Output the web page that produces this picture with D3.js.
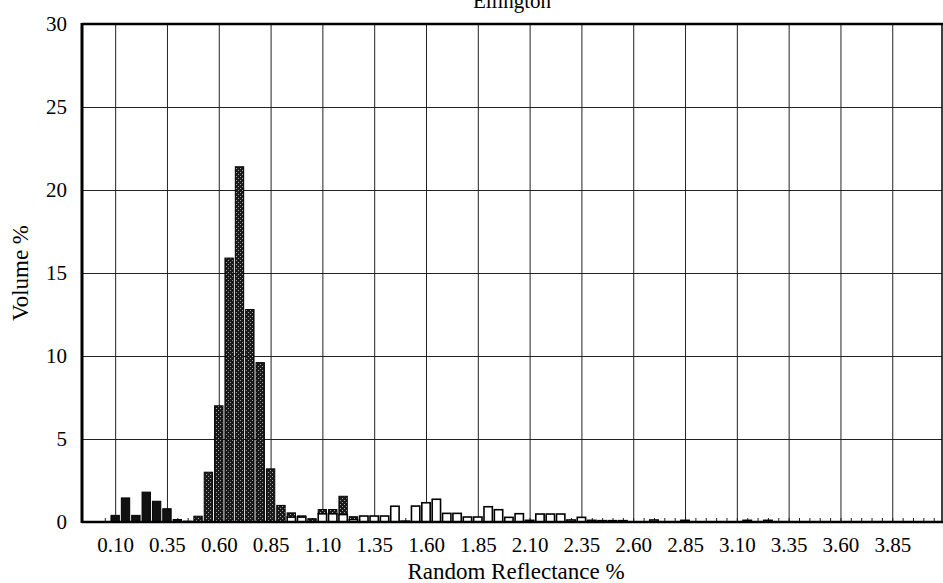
<!DOCTYPE html>
<html>
<head>
<meta charset="utf-8">
<script src="https://cdn.jsdelivr.net/npm/d3@7"></script>
<style>
  body { margin: 0; background: #fff; }
  svg { display: block; font-family: "Liberation Serif", "Times New Roman", serif; }
</style>
</head>
<body>
<svg width="943" height="583"></svg>
<script>
let bins = [0.10, 0.15, 0.20, 0.25, 0.30, 0.35, 0.40, 0.45, 0.50, 0.55,
  0.60, 0.65, 0.70, 0.75, 0.80, 0.85, 0.90, 0.95, 1.00, 1.05,
  1.10, 1.15, 1.20, 1.25, 1.30, 1.35, 1.40, 1.45, 1.50, 1.55,
  1.60, 1.65, 1.70, 1.75, 1.80, 1.85, 1.90, 1.95, 2.00, 2.05,
  2.10, 2.15, 2.20, 2.25, 2.30, 2.35, 2.40, 2.45, 2.50, 2.55,
  2.60, 2.65, 2.70, 2.75, 2.80, 2.85, 2.90, 2.95, 3.00, 3.05,
  3.10, 3.15, 3.20, 3.25]

// solid black group
let blackVals = [0.4, 1.45, 0.4, 1.8, 1.25, 0.8, 0.15, 0, 0, 0,
  0, 0, 0, 0, 0, 0, 0, 0, 0, 0,
  0, 0, 0, 0, 0, 0, 0, 0, 0, 0,
  0, 0, 0, 0, 0, 0, 0, 0, 0, 0,
  0, 0, 0, 0, 0, 0, 0, 0, 0, 0,
  0, 0, 0, 0, 0, 0, 0, 0, 0, 0,
  0, 0, 0, 0]

// stippled group
let stippleVals = [0, 0, 0, 0, 0, 0, 0, 0.05, 0.35, 3.0,
  7.0, 15.9, 21.4, 12.8, 9.6, 3.2, 1.0, 0.25, 0.07, 0.2,
  0.25, 0.25, 1.1, 0.17, 0, 0, 0, 0, 0, 0,
  0, 0, 0, 0, 0, 0, 0, 0, 0, 0,
  0, 0, 0, 0, 0, 0, 0, 0, 0, 0,
  0, 0, 0, 0, 0, 0, 0, 0, 0, 0,
  0, 0, 0, 0]

// open (white) group
let whiteVals = [0, 0, 0, 0, 0, 0, 0, 0, 0, 0,
  0, 0, 0, 0, 0, 0, 0, 0.3, 0.3, 0,
  0.5, 0.5, 0.45, 0.15, 0.36, 0.36, 0.36, 0.95, 0.05, 0.96,
  1.16, 1.37, 0.52, 0.52, 0.3, 0.3, 0.92, 0.74, 0.28, 0.5,
  0.1, 0.48, 0.48, 0.48, 0.12, 0.28, 0.1, 0.08, 0.08, 0.08,
  0, 0, 0.12, 0, 0, 0.1, 0, 0, 0, 0,
  0, 0.1, 0, 0.1]

let xTicks = [0.10, 0.35, 0.60, 0.85, 1.10, 1.35, 1.60, 1.85, 2.10, 2.35,
  2.60, 2.85, 3.10, 3.35, 3.60, 3.85, 4.10]
let xLabels = ['0.10', '0.35', '0.60', '0.85', '1.10', '1.35', '1.60', '1.85',
  '2.10', '2.35', '2.60', '2.85', '3.10', '3.35', '3.60', '3.85', '']
let yTicks = [0, 5, 10, 15, 20, 25, 30]

let title = 'Ellington'
let xTitle = 'Random Reflectance %'
let yTitle = 'Volume %'

let margin = { left: 82, right: 942, top: 24, bottom: 522 }
let binW = 0.05

let xScale = d3.scaleLinear().domain([-0.06, 4.09]).range([margin.left, margin.right])
let yScale = d3.scaleLinear().domain([0, 30]).range([margin.bottom, margin.top])

let svg = d3.select('svg')

// stipple pattern
let pat = svg.append('defs').append('pattern')
  .attr('id', 'stip')
  .attr('width', 4).attr('height', 4)
  .attr('patternUnits', 'userSpaceOnUse')
pat.append('rect').attr('width', 4).attr('height', 4).attr('fill', '#1a1a1a')
pat.append('rect').attr('x', 0).attr('y', 0).attr('width', 1).attr('height', 1).attr('fill', '#a8a8a8')
pat.append('rect').attr('x', 2).attr('y', 2).attr('width', 1).attr('height', 1).attr('fill', '#a8a8a8')

// grid
svg.append('g')
  .attr('transform', 'translate(' + [margin.left, 0] + ')')
  .call(d3.axisLeft(yScale).tickValues(yTicks).tickSize(-(margin.right - margin.left)).tickFormat(''))
  .call(g => g.select('.domain').remove())
  .call(g => g.selectAll('line').attr('stroke', '#222').attr('stroke-width', 1))

svg.append('g')
  .attr('transform', 'translate(' + [0, margin.top] + ')')
  .call(d3.axisBottom(xScale).tickValues(xTicks).tickSize(margin.bottom - margin.top).tickFormat(''))
  .call(g => g.select('.domain').remove())
  .call(g => g.selectAll('line').attr('stroke', '#222').attr('stroke-width', 1))

// minor ticks on the baseline
let minor = d3.range(0.05, 4.06, 0.05)
svg.append('g')
  .attr('transform', 'translate(' + [0, margin.bottom] + ')')
  .call(d3.axisTop(xScale).tickValues(minor).tickSize(4).tickFormat(''))
  .call(g => g.select('.domain').remove())
  .call(g => g.selectAll('line').attr('stroke', '#222'))

// bars
let table = bins.map((b, i) => ({
  bin: b,
  white: whiteVals[i],
  stipple: stippleVals[i],
  black: blackVals[i]
}))

let stack = d3.stack().keys(['white', 'stipple', 'black'])(table)
let fills = { white: '#fff', stipple: 'url(#stip)', black: '#111' }

svg.append('g')
  .selectAll('g')
  .data(stack)
  .join('g')
  .attr('fill', d => fills[d.key])
  .attr('stroke', '#000')
  .attr('stroke-width', d => d.key == 'white' ? 1.6 : 1)
  .selectAll('rect')
  .data(d => d.filter(p => p[1] - p[0] > 0))
  .join('rect')
  .attr('x', d => xScale(d.data.bin - binW / 2) + 1)
  .attr('width', d => xScale(d.data.bin + binW / 2) - xScale(d.data.bin - binW / 2) - 2)
  .attr('y', d => yScale(d[1]))
  .attr('height', d => Math.max(0.5, yScale(d[0]) - yScale(d[1])))

// frame
let frame = svg.append('g').attr('stroke', '#000').attr('fill', 'none')
frame.append('line').attr('x1', margin.left).attr('x2', margin.right + 1)
  .attr('y1', margin.top).attr('y2', margin.top).attr('stroke-width', 2.5)
frame.append('line').attr('x1', margin.left).attr('x2', margin.right + 1)
  .attr('y1', margin.bottom).attr('y2', margin.bottom).attr('stroke-width', 2.5)
frame.append('line').attr('x1', margin.left).attr('x2', margin.left)
  .attr('y1', margin.top - 1).attr('y2', margin.bottom + 1).attr('stroke-width', 3)
frame.append('line').attr('x1', margin.right).attr('x2', margin.right)
  .attr('y1', margin.top).attr('y2', margin.bottom).attr('stroke-width', 1.5)

// axis labels
svg.append('g')
  .attr('transform', 'translate(' + [margin.left, 0] + ')')
  .call(d3.axisLeft(yScale).tickValues(yTicks).tickSize(0).tickPadding(15))
  .attr('font-family', null)
  .attr('font-size', 21)
  .call(g => g.select('.domain').remove())
  .call(g => g.selectAll('text').attr('fill', '#000'))

svg.append('g')
  .attr('transform', 'translate(' + [0, margin.bottom] + ')')
  .call(d3.axisBottom(xScale).tickValues(xTicks).tickSize(0).tickPadding(15)
    .tickFormat((d, i) => xLabels[i]))
  .attr('font-family', null)
  .attr('font-size', 21)
  .call(g => g.select('.domain').remove())
  .call(g => g.selectAll('text').attr('fill', '#000'))

svg.append('text')
  .attr('x', (margin.left + margin.right) / 2 + 4)
  .attr('y', 579)
  .attr('text-anchor', 'middle')
  .attr('font-size', 23)
  .text(xTitle)

svg.append('text')
  .attr('transform', 'translate(' + [28, (margin.top + margin.bottom) / 2] + ') rotate(-90)')
  .attr('text-anchor', 'middle')
  .attr('font-size', 23)
  .text(yTitle)

svg.append('text')
  .attr('x', (margin.left + margin.right) / 2)
  .attr('y', 8)
  .attr('text-anchor', 'middle')
  .attr('font-size', 21)
  .text(title)
</script>
</body>
</html>
